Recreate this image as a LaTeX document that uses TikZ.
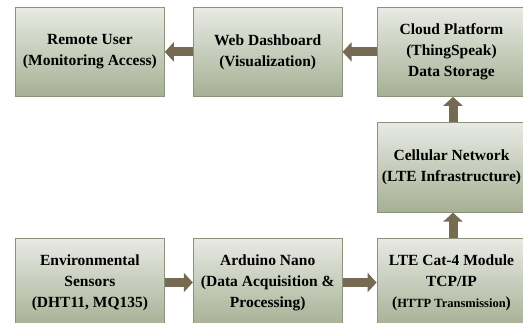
\documentclass[tikz,border=0pt]{standalone}
\usepackage{fontspec}
\setmainfont{Liberation Serif}
\usepackage{tikz}
\usetikzlibrary{arrows.meta, positioning}
\definecolor{boxTop}{RGB}{232, 234, 228}
\definecolor{boxBottom}{RGB}{166, 176, 148}
\definecolor{boxEdge}{RGB}{138, 146, 122}
\definecolor{flowBrown}{RGB}{117, 106, 82}

\begin{document}
\begin{tikzpicture}[x=1pt, y=1pt,
  block/.style={draw=boxEdge, line width=0.8pt, top color=boxTop, bottom color=boxBottom,
    minimum width=149pt, minimum height=89pt, align=center, inner sep=0pt,
    font=\fontsize{15.5}{21}\selectfont\bfseries},
  flow/.style={draw=flowBrown, line width=9pt, -{Triangle[length=9pt, width=19pt]}}]
  \useasboundingbox (0,0) rectangle (523,322);
  % top row
  \node[block, anchor=north west] (remote) at (15,315) {Remote User\\(Monitoring Access)};
  \node[block, right=28pt of remote] (web) {Web Dashboard\\(Visualization)};
  \node[block, right=34pt of web] (cloud) {Cloud Platform\\(ThingSpeak)\\Data Storage};
  % right column
  \node[block, below=25pt of cloud, minimum height=90pt] (cell) {Cellular Network\\(LTE Infrastructure)};
  \node[block, below=25pt of cell] (lte) {LTE Cat-4 Module\\TCP/IP\\({\fontsize{12.5}{13}\selectfont HTTP Transmission})};
  % bottom row
  \node[block, left=34pt of lte] (nano) {Arduino Nano\\(Data Acquisition \&\\Processing)};
  \node[block, left=28pt of nano] (sensors) {Environmental\\Sensors\\(DHT11, MQ135)};
  \draw[flow] (sensors) -- (nano);
  \draw[flow] (nano) -- (lte);
  \draw[flow] ([xshift=1.5pt]lte.north) -- ([xshift=1.5pt]cell.south);
  \draw[flow] ([xshift=1.5pt]cell.north) -- ([xshift=1.5pt]cloud.south);
  \draw[flow] (cloud) -- (web);
  \draw[flow] (web) -- (remote);
\end{tikzpicture}
\end{document}
